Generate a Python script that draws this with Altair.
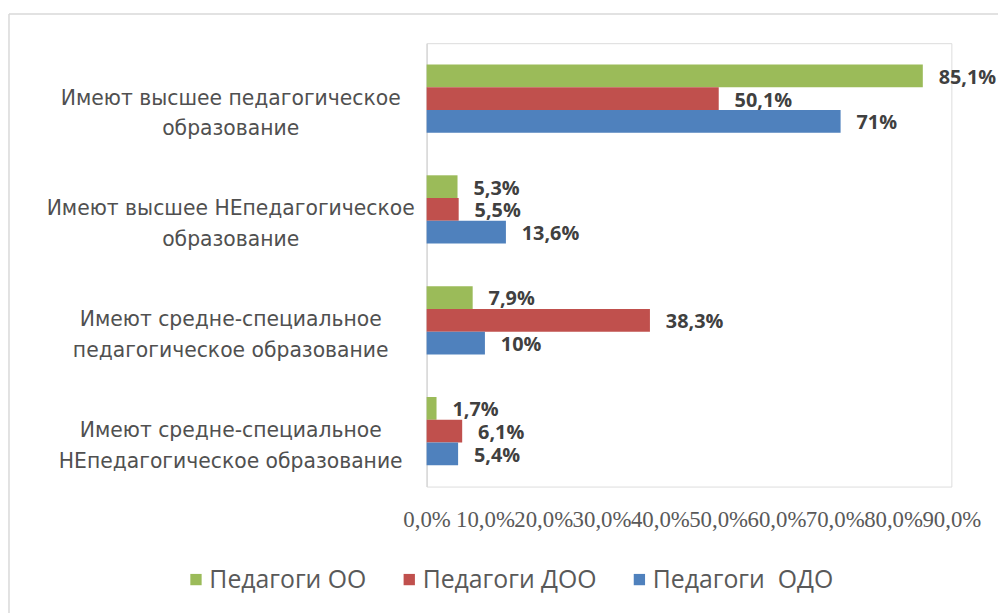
import altair as alt
import pandas as pd

categories = [
    "Имеют высшее педагогическое\nобразование",
    "Имеют высшее НЕпедагогическое\nобразование",
    "Имеют средне-специальное\nпедагогическое образование",
    "Имеют средне-специальное\nНЕпедагогическое образование",
]
series = ["Педагоги ОО", "Педагоги ДОО", "Педагоги\u00a0\u00a0ОДО"]
colors = ["#9BBB59", "#C0504D", "#4F81BD"]
values_oo = [85.1, 5.3, 7.9, 1.7]
values_doo = [50.1, 5.5, 38.3, 6.1]
values_odo = [71, 13.6, 10, 5.4]
tick_values = [0, 10, 20, 30, 40, 50, 60, 70, 80, 90]

rows = []
for s, vals in zip(series, [values_oo, values_doo, values_odo]):
    for c, v in zip(categories, vals):
        rows.append({"cat": c, "series": s, "value": v,
                     "label": (str(v).replace(".", ",")) + "%"})
df = pd.DataFrame(rows)

y_enc = alt.Y(
    "cat:N", sort=categories,
    scale=alt.Scale(paddingInner=0.384, paddingOuter=0.192),
    axis=alt.Axis(
        title=None, ticks=False, tickSize=0, grid=False,
        domain=True, domainColor="#D9D9D9", domainWidth=1.5,
        labelExpr="split(datum.value, '\\n')",
        labelAlign="center", labelBaseline="middle",
        labelPadding=198, labelLimit=420,
        labelFont="DejaVu Sans", labelFontSize=20.5, labelColor="#505050",
        labelLineHeight=31,
    ),
)
yoff = alt.YOffset("series:N", sort=series,
                   scale=alt.Scale(domain=series, paddingInner=0, paddingOuter=0))
x_enc = alt.X(
    "value:Q",
    scale=alt.Scale(domain=[0, 90], nice=False, zero=True),
    axis=alt.Axis(
        title=None, values=tick_values, ticks=False, tickSize=0, grid=False,
        domain=False, labelOverlap=False, labelFlush=False,
        labelExpr="replace(format(datum.value, '.1f'), '.', ',') + '%'",
        labelFont="Liberation Serif", labelFontSize=23, labelColor="#595959",
        labelPadding=22,
    ),
)
color_enc = alt.Color(
    "series:N", sort=series,
    scale=alt.Scale(domain=series, range=colors),
    legend=alt.Legend(
        title=None, orient="none", direction="horizontal",
        legendX=-245, legendY=528,
        symbolType="square", symbolSize=130, symbolStrokeWidth=0,
        labelFont="Open Sans", labelFontSize=25, labelColor="#595959",
        labelLimit=300, labelOffset=1, columnPadding=30,
    ),
)

base = alt.Chart(df)
bars = base.mark_bar().encode(y=y_enc, yOffset=yoff, x=x_enc, color=color_enc)
texts = base.mark_text(
    align="left", baseline="middle", dx=16, dy=2,
    font="Open Sans", fontWeight="bold", fontSize=20, color="#404040",
).encode(y=y_enc, yOffset=yoff, x=x_enc, text="label:N")

frame_df = pd.DataFrame({"k": [0]})
top_line = alt.Chart(frame_df).mark_rule(color="#D9D9D9", strokeWidth=1.5).encode(
    x=alt.value(-421), x2=alt.value(585), y=alt.value(-29.5))
left_line = alt.Chart(frame_df).mark_rule(color="#D9D9D9", strokeWidth=1.5).encode(
    x=alt.value(-421), y=alt.value(-29.5), y2=alt.value(590))

chart = alt.layer(top_line, left_line, bars, texts).properties(
    width=529, height=447,
    autosize=alt.AutoSizeParams(type="none"),
    padding={"left": 422, "top": 33, "right": 47, "bottom": 125},
).configure_view(stroke=None).configure(background="white")

chart.save("out.html", embed_options={"renderer": "svg", "actions": False})
